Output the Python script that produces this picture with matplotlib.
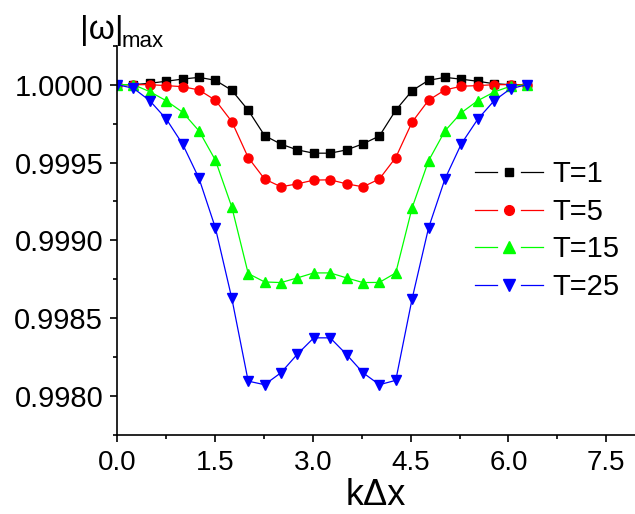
import numpy as np
import matplotlib
matplotlib.use("Agg")
import matplotlib.pyplot as plt
from matplotlib.lines import Line2D
from matplotlib.legend_handler import HandlerBase
from matplotlib.ticker import MultipleLocator, FormatStrFormatter

plt.rcParams['font.family'] = ['Liberation Sans', 'DejaVu Sans']

# 26 points from 0 to 2*pi
kdx = np.linspace(0, 2 * np.pi, 26)

t1 = [1.00000, 1.00000, 1.000009, 1.000022, 1.000036, 1.000047, 1.000028, 0.999964,
      0.999836, 0.999673, 0.999618, 0.999581, 0.999560, 0.999560, 0.999581, 0.999620,
      0.999670, 0.999836, 0.999962, 1.000028, 1.000047, 1.000035, 1.000022, 1.000006,
      1.00000, 1.00000]
t5 = [1.00000, 1.00000, 1.00000, 0.999994, 0.999987, 0.999966, 0.999900, 0.999763,
      0.999532, 0.999394, 0.999344, 0.999363, 0.999387, 0.999389, 0.999363, 0.999344,
      0.999394, 0.999532, 0.999760, 0.999900, 0.999966, 0.999990, 0.999994, 1.00000,
      1.00000, 1.00000]
t15 = [1.00000, 1.00000, 0.999955, 0.999897, 0.999823, 0.999703, 0.999515, 0.999214,
       0.998787, 0.998733, 0.998729, 0.998759, 0.998791, 0.998791, 0.998759, 0.998729,
       0.998730, 0.998791, 0.999210, 0.999511, 0.999703, 0.999820, 0.999897, 0.999953,
       0.999990, 1.00000]
t25 = [1.00000, 0.999977, 0.999897, 0.999780, 0.999618, 0.999398, 0.999080, 0.998628,
       0.998096, 0.998073, 0.998150, 0.998269, 0.998374, 0.998374, 0.998267, 0.998150,
       0.998073, 0.998101, 0.998626, 0.999080, 0.999394, 0.999620, 0.999778, 0.999897,
       0.999974, 1.00000]

labels = ["T=1", "T=5", "T=15", "T=25"]
values = [t1, t5, t15, t25]
colors = ["black", "red", "#00ff00", "blue"]
markers = ["s", "o", "^", "v"]
msizes = [5.5, 6.5, 7.5, 7.5]


class GapHandler(HandlerBase):
    # line - marker - line, with a gap around the marker (Origin style)
    def create_artists(self, legend, orig_handle, xdescent, ydescent, width, height,
                       fontsize, trans):
        y = height / 2 - ydescent
        x0 = -xdescent
        xm = x0 + width / 2
        gap = 8.5
        col = orig_handle.get_color()
        lw = orig_handle.get_linewidth()
        l1 = Line2D([x0, xm - gap], [y, y], color=col, linewidth=lw)
        l2 = Line2D([xm + gap, x0 + width], [y, y], color=col, linewidth=lw)
        m = Line2D([xm], [y], linestyle='none', marker=orig_handle.get_marker(),
                   markersize=orig_handle.get_markersize() + 0.5, color=col)
        for a in (l1, l2, m):
            a.set_transform(trans)
        return [l1, l2, m]


fig = plt.figure(figsize=(6.35, 5.14), dpi=100)
ax = fig.add_axes([0.1843, 0.1537, 0.8157, 0.7573])

handles = []
for lab, y, col, mk, ms in zip(labels, values, colors, markers, msizes):
    ln, = ax.plot(kdx, y, color=col, marker=mk, markersize=ms, linewidth=0.9, label=lab)
    handles.append(ln)

ax.set_xlim(0, 7.94)
ax.set_ylim(0.99775, 1.00025)
ax.xaxis.set_major_locator(MultipleLocator(1.5))
ax.xaxis.set_minor_locator(MultipleLocator(0.75))
ax.yaxis.set_major_locator(MultipleLocator(0.0005))
ax.yaxis.set_minor_locator(MultipleLocator(0.00025))
ax.xaxis.set_major_formatter(FormatStrFormatter('%.1f'))
ax.yaxis.set_major_formatter(FormatStrFormatter('%.4f'))
ax.spines['top'].set_visible(False)
ax.spines['right'].set_visible(False)
ax.spines['left'].set_linewidth(1.2)
ax.spines['bottom'].set_linewidth(1.2)
ax.tick_params(which='major', direction='out', length=5, width=1.2)
ax.tick_params(axis='x', which='major', pad=6, labelsize=20)
ax.tick_params(axis='y', which='major', pad=5, labelsize=21)
ax.tick_params(which='minor', direction='out', length=3, width=1.2)

ax.set_xlabel("kΔx", fontsize=26, labelpad=1)

fig.text(0.126, 0.94, "|ω|", fontsize=24, ha='left', va='center')
fig.text(0.192, 0.9086, "max", fontsize=16, ha='left', va='baseline')

ax.legend(handles, labels, handler_map={Line2D: GapHandler()},
          loc='center left', bbox_to_anchor=(0.691, 0.525), frameon=False, fontsize=21,
          handlelength=2.35, handletextpad=0.3, labelspacing=0.33,
          borderaxespad=0, borderpad=0)

fig.savefig("out.png", dpi=100)
